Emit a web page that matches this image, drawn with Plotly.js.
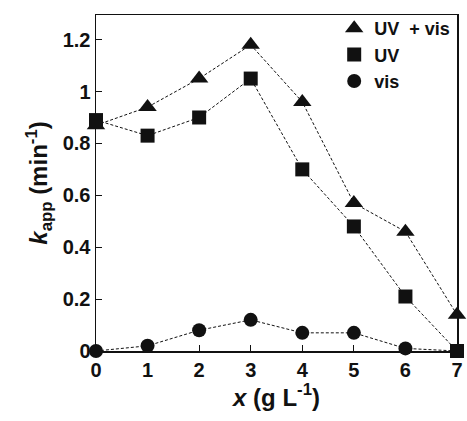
<!DOCTYPE html>
<html><head><meta charset="utf-8">
<script src="https://cdn.plot.ly/plotly-3.0.1.min.js"></script>
<style>body{margin:0;background:#fff}#c{width:467px;height:421px}</style>
</head><body><div id="c"></div>
<script>
const xVals = [0, 1, 2, 3, 4, 5, 6, 7];
const uvVis = [0.87, 0.94, 1.05, 1.18, 0.96, 0.57, 0.46, 0.14];
const uv    = [0.89, 0.83, 0.90, 1.05, 0.70, 0.48, 0.21, 0.00];
const vis   = [0.00, 0.02, 0.08, 0.12, 0.07, 0.07, 0.01, 0.00];
const names = ['UV  + vis', 'UV', 'vis'];
const xTickText = ['0', '1', '2', '3', '4', '5', '6', '7'];
const yTicks = [0, 0.2, 0.4, 0.6, 0.8, 1, 1.2];
const yTickText = ['0', '0.2', '0.4', '0.6', '0.8', '1', '1.2'];

const series = [[uvVis, names[0], 'triangle-up', 16], [uv, names[1], 'square', 14], [vis, names[2], 'circle', 14]];
const data = [];
series.forEach(([y, name]) => data.push({x: xVals, y: y, type: 'scatter', mode: 'lines', showlegend: false,
  hoverinfo: 'skip', line: {color: '#111', width: 1, dash: '3px,2px'}}));
series.forEach(([y, name, sym, size]) => data.push({x: xVals, y: y, name: '<b>' + name + '</b>', type: 'scatter',
  mode: 'markers', cliponaxis: false, marker: {symbol: sym, size: size, color: '#111'}}));

const fam = 'Liberation Sans, Arial, sans-serif';
const layout = {
  width: 467, height: 421,
  margin: {l: 96, r: 10, t: 13, b: 70},
  paper_bgcolor: '#fff', plot_bgcolor: '#fff',
  font: {family: fam, color: '#111'},
  showlegend: true,
  legend: {x: 0.995, y: 1.015, xanchor: 'right', yanchor: 'top', bgcolor: 'rgba(0,0,0,0)',
    font: {family: fam, size: 18, color: '#111'}, itemwidth: 30, tracegroupgap: 0},
  xaxis: {range: [0, 7], tickvals: xVals, ticktext: xTickText.map(t => '<b>' + t + '</b>'), ticks: 'inside', ticklen: 6, tickcolor: '#111',
    showline: true, linecolor: '#111', linewidth: 1.5, mirror: true, showgrid: false, zeroline: false,
    tickfont: {family: fam, size: 20, color: '#111'},
    title: {text: '<b><i>x</i> (g L<sup>-1</sup>)</b>', font: {family: fam, size: 24, color: '#111'}, standoff: 6}},
  yaxis: {range: [0, 1.295], tickvals: yTicks, ticktext: yTickText.map(t => '<b>' + t + '</b>'), ticks: 'inside', ticklen: 6, tickcolor: '#111',
    showline: true, linecolor: '#111', linewidth: 1.5, mirror: true, showgrid: false, zeroline: false,
    tickfont: {family: fam, size: 20, color: '#111'},
    title: {text: '<b><i>k</i><sub>app</sub> (min<sup>-1</sup>)</b>', font: {family: fam, size: 24, color: '#111'}, standoff: 8}}
};
Plotly.newPlot('c', data, layout, {staticPlot: true, displayModeBar: false});
</script></body></html>
